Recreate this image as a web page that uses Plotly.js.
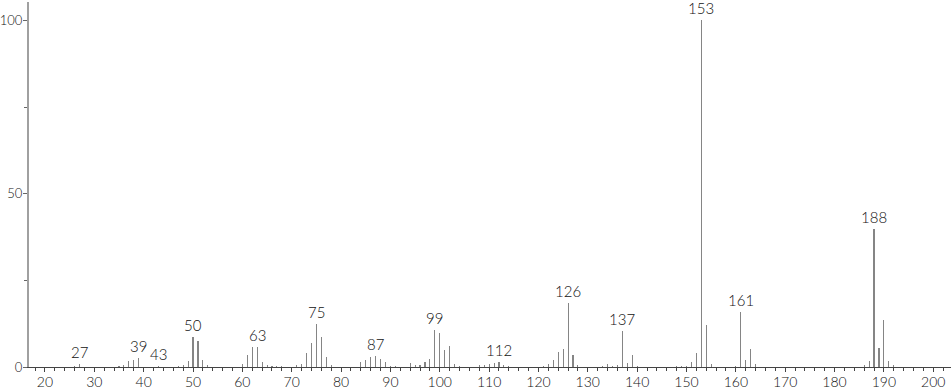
<!DOCTYPE html>
<html>
<head>
<meta charset="utf-8">
<script src="https://cdn.plot.ly/plotly-3.0.1.min.js"></script>
<style>html,body{margin:0;padding:0;background:#fff;}#chart{width:951px;height:389px;}</style>
</head>
<body>
<div id="chart"></div>
<script>
// m/z values and relative intensities
const mz = [26,27,35,36,37,38,39,43,47,48,49,50,51,52,53,
  60,61,62,63,64,65,66,67,68,71,72,73,74,75,76,77,78,
  84,85,86,87,88,89,90,91,94,95,96,97,98,99,100,101,102,103,104,
  108,109,110,111,112,113,114,121,122,123,124,125,126,127,128,
  133,134,135,136,137,138,139,140,148,149,150,151,152,153,154,155,
  160,161,162,163,164,186,187,188,189,190,191,192];
const intensity = [0.4,0.8,0.3,0.5,1.8,2.1,2.7,0.4,0.3,0.5,1.8,8.7,7.6,2.0,0.5,
  1.0,3.6,5.7,5.9,1.3,0.5,0.4,0.3,0.3,0.5,0.9,3.9,6.8,12.3,8.8,2.9,0.5,
  1.3,1.9,2.8,3.1,2.2,1.3,0.4,0.3,1.1,0.5,0.5,1.3,2.2,10.7,9.8,4.8,6.0,0.9,0.3,
  0.5,0.5,0.8,1.2,1.3,0.6,0.4,0.4,0.8,2.0,4.2,5.3,18.6,3.5,0.6,
  0.3,1.0,0.4,0.5,10.4,1.2,3.5,0.4,0.4,0.4,0.3,1.3,4.1,100,12.2,0.9,
  0.4,15.9,2.1,5.3,0.9,0.5,1.7,39.9,5.4,13.6,1.7,0.5];
const labelledPeaks = [27,39,43,50,63,75,87,99,112,126,137,153,161,188];
const xTickVals = [20,30,40,50,60,70,80,90,100,110,120,130,140,150,160,170,180,190,200];
const yTickVals = [0,50,100];

const fontFam = 'Lato, "Noto Sans", "DejaVu Sans", sans-serif';

const annotations = labelledPeaks.map(m => ({
  x: m, y: intensity[mz.indexOf(m)], xref:'x', yref:'y',
  text: String(m), showarrow:false, xanchor:'center', yanchor:'bottom', yshift:1,
  font:{family: fontFam, size:15, color:'#111', weight:300}
}));

const traces = [
  {type:'bar', x: mz, y: intensity, width: 0.22,
   marker:{color:'#858585', line:{width:0}}, hoverinfo:'x+y'}
];

const layout = {
  width: 951, height: 389,
  margin: {l:29, r:0, t:2, b:22},
  paper_bgcolor:'#fff', plot_bgcolor:'#fff',
  showlegend:false, bargap:0,
  font:{family: fontFam, size:14, color:'#111', weight:300},
  annotations: annotations,
  xaxis: {range:[16.76, 203.6], tickvals: xTickVals, ticktext: xTickVals.map(String),
    ticks:'outside', ticklen:4, tickwidth:1, tickcolor:'#444',
    minor:{dtick:2, tick0:0, ticks:'outside', ticklen:3, tickcolor:'#444', showgrid:false},
    showline:true, linecolor:'#444', linewidth:1, showgrid:false, zeroline:false,
    ticklabelstandoff:-2,
    tickfont:{size:14, color:'#111', weight:300}, fixedrange:true},
  yaxis: {range:[0, 105.3], tickvals: yTickVals, ticktext: yTickVals.map(String),
    ticks:'outside', ticklen:4, tickwidth:1, tickcolor:'#666',
    minor:{tickvals:[25,75], ticks:'outside', ticklen:3, tickcolor:'#666', showgrid:false},
    showline:true, linecolor:'#a0a0a0', linewidth:2, showgrid:false, zeroline:false,
    ticklabelstandoff:-2,
    tickfont:{size:13, color:'#111', weight:300}, fixedrange:true}
};

Plotly.newPlot('chart', traces, layout, {staticPlot:true, displayModeBar:false});
</script>
</body>
</html>
